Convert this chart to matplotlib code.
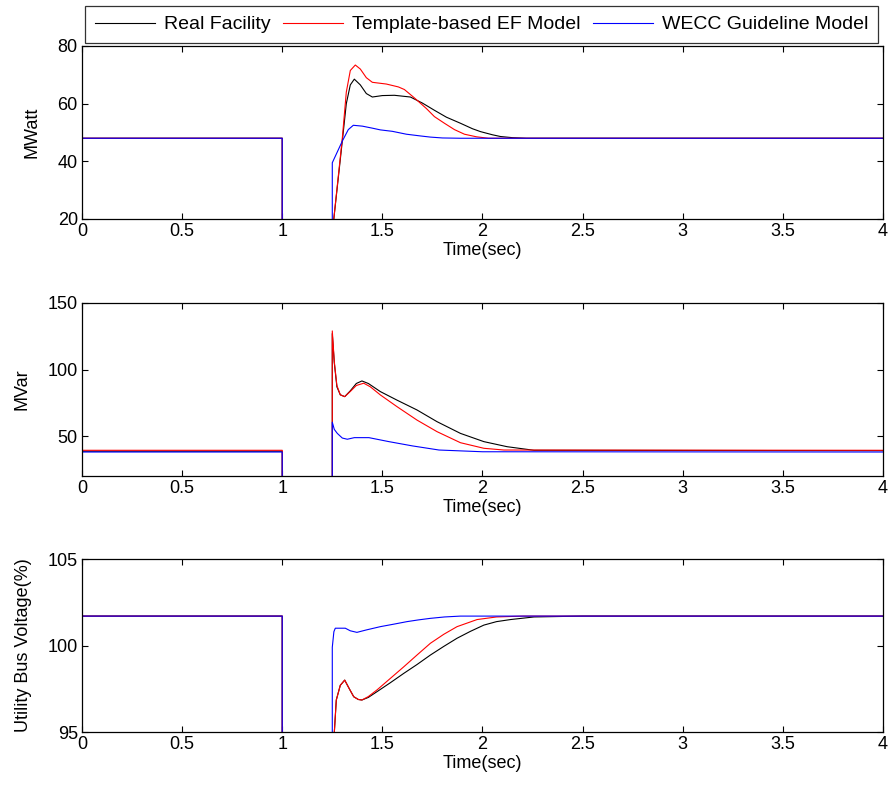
# //--------------------------< imports >--------------------------\\

import matplotlib
matplotlib.use('Agg')
import matplotlib.pyplot as plt


# //--------------------------< data >--------------------------\\

labels = ['Real Facility', 'Template-based EF Model', 'WECC Guideline Model']
colors = ['black', '#ff0000', '#0000ff']

# active power (MWatt)
t_p_real = [0, 1.0, 1.0, 1.25, 1.256, 1.30, 1.32, 1.34, 1.36, 1.39, 1.42, 1.45, 1.50, 1.56, 1.64, 1.70,
            1.76, 1.82, 1.89, 1.95, 1.99, 2.05, 2.09, 2.15, 2.22, 4.0]
p_real = [48, 48, 0, 0, 19, 47, 60, 66.5, 68.5, 66.5, 63.5, 62.3, 62.8, 62.9, 62.3, 60.2,
          57.7, 55.3, 53.2, 51.3, 50.3, 49.2, 48.6, 48.2, 48, 48]
t_p_ef = [0, 1.0, 1.0, 1.25, 1.256, 1.30, 1.32, 1.34, 1.365, 1.39, 1.42, 1.45, 1.52, 1.58, 1.61, 1.66,
          1.72, 1.76, 1.81, 1.86, 1.91, 1.97, 2.03, 4.0]
p_ef = [48, 48, 0, 0, 19, 48, 64, 71.5, 73.4, 72, 69, 67.4, 66.8, 65.8, 64.9, 62,
        58.3, 55.5, 53.2, 51, 49.4, 48.5, 48, 48]
t_p_wecc = [0, 1.0, 1.0, 1.25, 1.25, 1.26, 1.30, 1.33, 1.355, 1.40, 1.45, 1.49, 1.55, 1.62, 1.69,
            1.74, 1.80, 1.89, 4.0]
p_wecc = [48, 48, 0, 0, 39.5, 41, 47, 51, 52.5, 52.2, 51.5, 50.9, 50.4, 49.4, 48.8,
          48.4, 48.1, 48, 48]

# reactive power (MVar)
t_q_real = [0, 1.0, 1.0, 1.25, 1.25, 1.26, 1.273, 1.29, 1.312, 1.34, 1.37, 1.398, 1.43, 1.49, 1.573,
            1.673, 1.773, 1.89, 2.007, 2.123, 2.257, 4.0]
q_real = [38.6, 38.6, 0, 0, 127, 105, 87, 81, 79.6, 84, 89.5, 91.4, 89.5, 83.4, 77,
          69.6, 60.8, 52, 45.8, 42, 39.3, 39]
t_q_ef = [0, 1.0, 1.0, 1.25, 1.25, 1.26, 1.273, 1.29, 1.312, 1.34, 1.37, 1.407, 1.44, 1.49, 1.573,
          1.673, 1.773, 1.89, 2.007, 2.107, 4.0]
q_ef = [39.3, 39.3, 0, 0, 129, 106, 88, 81, 79.6, 83.5, 88, 89.7, 87, 80.9, 72.1,
        62, 53.3, 45, 40.8, 39.5, 39.3]
t_q_wecc = [0, 1.0, 1.0, 1.25, 1.25, 1.26, 1.275, 1.30, 1.325, 1.36, 1.433, 1.533, 1.65, 1.783, 2.0, 4.0]
q_wecc = [38, 38, 0, 0, 60.4, 55, 52, 48.5, 47.6, 48.8, 48.8, 45.8, 42.6, 39.5, 38.2, 38]

# utility bus voltage (%)
t_v_real = [0, 1.0, 1.0, 1.25, 1.255, 1.27, 1.29, 1.312, 1.335, 1.357, 1.38, 1.398, 1.43, 1.473, 1.54,
            1.607, 1.673, 1.74, 1.807, 1.873, 1.94, 2.007, 2.07, 2.14, 2.257, 2.5, 4.0]
v_real = [101.7, 101.7, 90, 90, 94, 96.85, 97.7, 98.0, 97.5, 97.04, 96.88, 96.85, 97.0, 97.33, 97.85,
          98.39, 98.9, 99.45, 99.95, 100.42, 100.82, 101.18, 101.38, 101.5, 101.65, 101.7, 101.7]
t_v_ef = [0, 1.0, 1.0, 1.25, 1.255, 1.27, 1.29, 1.312, 1.335, 1.357, 1.38, 1.398, 1.43, 1.473, 1.54,
          1.607, 1.673, 1.74, 1.807, 1.873, 1.973, 2.07, 2.2, 4.0]
v_ef = [101.7, 101.7, 90, 90, 94, 96.85, 97.7, 98.0, 97.5, 97.04, 96.88, 96.85, 97.05, 97.43, 98.1,
        98.77, 99.45, 100.13, 100.65, 101.09, 101.5, 101.65, 101.7, 101.7]
t_v_wecc = [0, 1.0, 1.0, 1.25, 1.25, 1.258, 1.265, 1.315, 1.34, 1.373, 1.42, 1.49, 1.56, 1.623, 1.68,
            1.74, 1.81, 1.89, 4.0]
v_wecc = [101.7, 101.7, 90, 90, 99.9, 100.8, 101.0, 101.0, 100.85, 100.76, 100.9, 101.09, 101.24, 101.38, 101.48,
          101.57, 101.65, 101.7, 101.7]


# //--------------------------< plot >--------------------------\\

plt.rcParams['font.family'] = ['Liberation Sans', 'DejaVu Sans']
plt.rcParams['font.size'] = 13

fig = plt.figure(figsize=(8.91, 7.9), dpi=100)

left, width = 0.092, 0.899
ax1 = fig.add_axes([left, 0.7228, width, 0.219])
ax2 = fig.add_axes([left, 0.3975, width, 0.219])
ax3 = fig.add_axes([left, 0.0734, width, 0.219])

panels = [
    (ax1, [(t_p_real, p_real), (t_p_ef, p_ef), (t_p_wecc, p_wecc)], 'MWatt', (20, 80), [20, 40, 60, 80], -0.052),
    (ax2, [(t_q_real, q_real), (t_q_ef, q_ef), (t_q_wecc, q_wecc)], 'MVar', (20, 150), [50, 100, 150], -0.064),
    (ax3, [(t_v_real, v_real), (t_v_ef, v_ef), (t_v_wecc, v_wecc)], 'Utility Bus Voltage(%)', (95, 105), [95, 100, 105], -0.063),
]

for ax, series, ylab, ylim, yticks, lx in panels:
    for (t, y), c, lab in zip(series, colors, labels):
        ax.plot(t, y, color=c, linewidth=0.8, label=lab)
    ax.set_xlim(0, 4)
    ax.set_ylim(*ylim)
    ax.set_xticks([0, 0.5, 1, 1.5, 2, 2.5, 3, 3.5, 4])
    ax.set_xticklabels(['0', '0.5', '1', '1.5', '2', '2.5', '3', '3.5', '4'])
    ax.set_yticks(yticks)
    ax.tick_params(direction='in', top=True, right=True, length=4, width=0.8, labelsize=13, pad=3)
    ax.set_xlabel('Time(sec)', fontsize=13, labelpad=1)
    ax.set_ylabel(ylab, fontsize=13)
    ax.yaxis.set_label_coords(lx, 0.5)
    for s in ax.spines.values():
        s.set_linewidth(0.9)

leg = ax1.legend(loc='lower left', bbox_to_anchor=(0.0, 1.0), ncol=3, borderaxespad=0.15,
                 frameon=True, fancybox=False, edgecolor='black', fontsize=14,
                 handlelength=3.1, columnspacing=0.65, handletextpad=0.45, borderpad=0.5)
leg.get_frame().set_linewidth(0.9)

fig.savefig('out.png', dpi=100)
